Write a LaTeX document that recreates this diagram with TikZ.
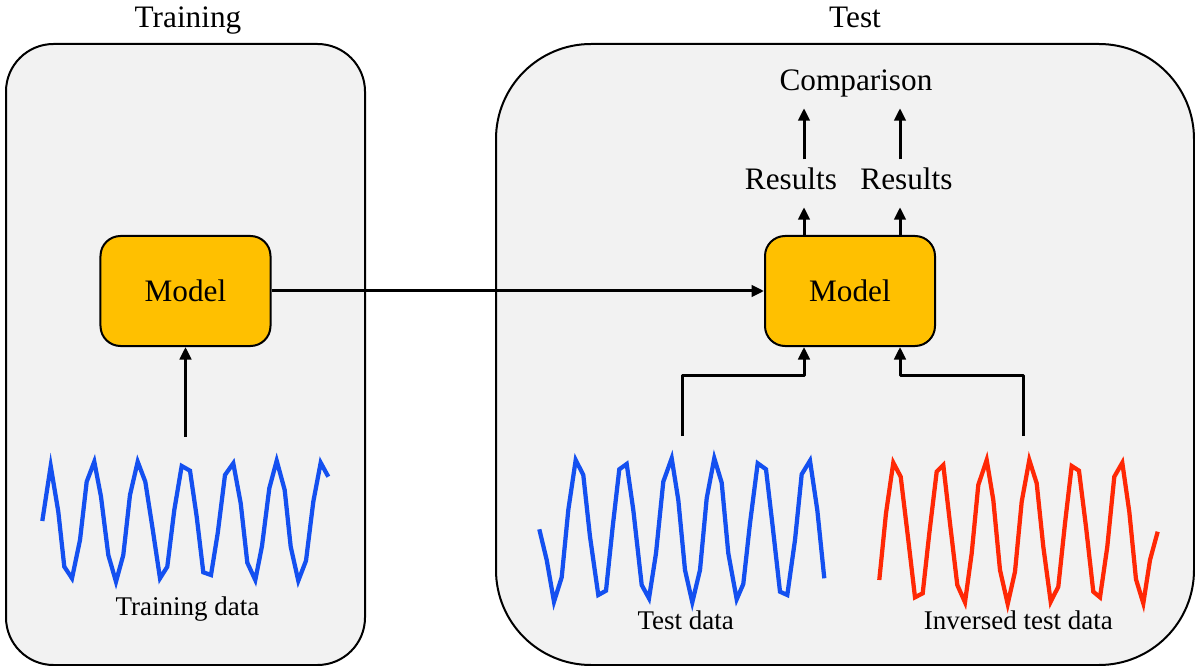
\documentclass[tikz,border=0pt]{standalone}
\usepackage{fontspec}
\setmainfont{Liberation Serif}
\usetikzlibrary{arrows.meta}
\definecolor{cPanel}{RGB}{242,242,242}
\definecolor{cModel}{RGB}{255,192,0}
\definecolor{cBlue} {RGB}{20,80,240}
\definecolor{cRed}  {RGB}{255,40,5}
\def\Rtrain{19pt}
\def\Rtest{38pt}
\begin{document}
\begin{tikzpicture}[x=0.4pt,y=-0.4pt,
  font=\fontsize{12.5}{15}\selectfont,
  panel/.style={fill=cPanel,draw=black,line width=0.8pt},
  model/.style={draw=black,fill=cModel,line width=0.8pt,rounded corners=8pt,
    minimum width=68pt,minimum height=44pt,inner sep=0pt},
  lbl/.style={inner sep=3.5pt,text height=8.5pt,text depth=3.2pt},
  data/.style={lbl,font=\fontsize{10.8}{13}\selectfont},
  arr/.style={line width=1.2pt,line join=round,-{Triangle[length=5pt,width=4.6pt]}},
  wave/.style={line width=1.7pt}]

\useasboundingbox (0,0) rectangle (1195,666);

% =================== PAINÉIS ===================
\draw[panel,rounded corners=\Rtrain] (6,44) rectangle (365,665);
\draw[panel,rounded corners=\Rtest] (496,44) rectangle (1194,665);

\node[lbl,anchor=base] (tTrain) at (188,28) {Training};
\node[lbl,anchor=base] (tTest) at (855,28) {Test};

% =================== TREINO ===================
\node[model] (mL) at (185.5,291) {Model};

% sinal de treino
\draw[wave,cBlue] plot coordinates {(42.3,521) (50.7,466) (58.3,511.7) (64.3,566.7)
  (72,578.3) (80,540) (86.7,481.7) (94.3,461.7) (101,496.7) (108.3,555) (116,581.7)
  (123.3,555) (130,495) (137.7,461.7) (145.3,481.7) (152.3,526.7) (160,578.3)
  (167.3,566.7) (174.3,510) (181.7,466) (190,470.7) (196.7,516.7) (203.3,572.3)
  (211,575) (217.7,533.3) (225,475) (233.3,463.3) (240.7,503.3) (247.3,562.7)
  (255.3,580) (262,546) (269.3,488.3) (276.7,460.7) (284.7,490) (290.7,546.7)
  (298.3,580.7) (306,560.7) (313.3,501.7) (320.7,462.7) (328.3,476.7)};
\node[data,anchor=base] (dTrain) at (187.5,615) {Training data};

\coordinate (trIn) at (185.5,436.7);
\draw[arr] (trIn) -- (mL.south);

% =================== TESTE ===================
\node[model] (mR) at (850,291) {Model};
\draw[arr] (mL.east) -- (mR.west);

% sinal de teste
\draw[wave,cBlue] plot coordinates {(539.3,529.3) (546.7,560) (554,601.7) (561.7,577.3)
  (568.3,510) (575.7,460) (583.3,475) (590,536.7) (598.3,595) (606,590.7)
  (612.7,526.7) (619.3,469.3) (626.7,464) (633.3,510) (641.7,585) (649,598.3)
  (656,553.3) (663.3,481.7) (671.7,458.3) (678.3,500) (685,570) (692.3,602.3)
  (700,570) (706.7,498.3) (714.3,458.3) (721.7,482.7) (728.3,553.3) (736.7,599.3)
  (743.3,584) (750,523.3) (757.7,463.3) (766,469.3) (772.7,526.7) (780,591.7)
  (787.3,595) (795,540) (801.7,474.3) (810,460.7) (817.3,510) (824.3,578.3)};
\node[data,anchor=base] (dTest) at (685.7,629) {Test data};

% sinal invertido
\draw[wave,cRed] plot coordinates {(879.3,580) (886,513.3) (893.3,462.7) (900.7,476.7)
  (908.3,540) (915,597.3) (922.7,593.3) (929.3,533.3) (936.7,471.7) (943.3,465)
  (950,523.3) (957.3,585) (965,602.3) (971.7,553.3) (978.3,485) (986.7,460)
  (993.3,500) (1000,570) (1007.7,604) (1015,571.7) (1021.7,501.7) (1029.3,460)
  (1036.7,483.3) (1043.3,546.7) (1050.7,601.7) (1058.3,586.7) (1065,523.3)
  (1071.7,466) (1079,470.7) (1086,526.7) (1093.3,591.7) (1100,597.3) (1107.3,546.7)
  (1114.3,476.7) (1122.3,462.7) (1129.3,511.7) (1136,579.3) (1143.3,603.3)
  (1150,560) (1157.7,531.7)};
\node[data,anchor=base] (dInv) at (1018.3,629) {Inversed test data};

\coordinate (teIn) at (682,436);
\coordinate (invIn) at (1023,436);
\coordinate (pA) at (804,376);
\coordinate (pB) at (900,376);
\draw[arr] (teIn) |- (pA) -- (mR.south -| pA);
\draw[arr] (invIn) |- (pB) -- (mR.south -| pB);

% saídas
\node[lbl,anchor=base] (res1) at (791,190) {Results};
\node[lbl,anchor=base] (res2) at (906.5,190) {Results};
\node[lbl,anchor=base] (cmp) at (856,91) {Comparison};

\draw[arr] (mR.north -| pA) -- (res1.south -| pA);
\draw[arr] (mR.north -| pB) -- (res2.south -| pB);
\draw[arr] (res1.north -| pA) -- (cmp.south -| pA);
\draw[arr] (res2.north -| pB) -- (cmp.south -| pB);

\end{tikzpicture}
\end{document}
